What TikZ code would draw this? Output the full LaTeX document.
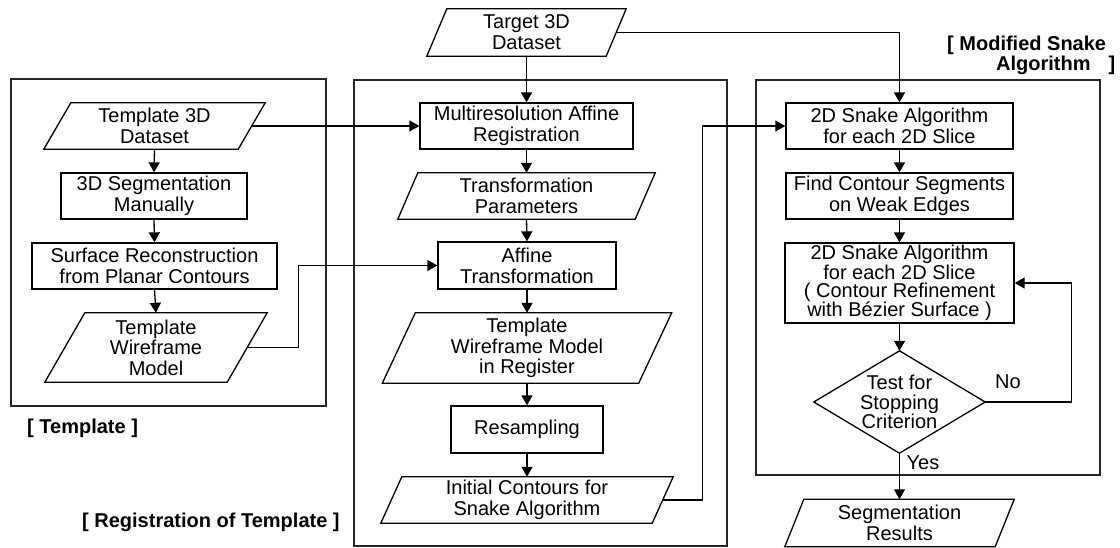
\documentclass[tikz,border=0pt]{standalone}
\usepackage{fontspec}
\setmainfont{Liberation Sans}
\usetikzlibrary{arrows.meta,calc}
\begin{document}
\begin{tikzpicture}[x=1pt,y=-1pt,
  every node/.style={inner sep=0pt, align=center, font=\fontsize{20}{21}\selectfont},
  rbox/.style={draw, line width=1.3pt},
  pbox/.style={},
  shapeline/.style={line width=1.3pt, line join=miter},
  frame/.style={line width=1.2pt, draw=black!85},
  arr/.style={-{Triangle[length=10pt,width=11pt]}, line width=1.3pt},
  lbl/.style={font=\bfseries\fontsize{20}{20}\selectfont, anchor=west}]
\useasboundingbox (0,0) rectangle (1120,547);

% frames
\draw[frame] (11,79) rectangle (326,406);
\draw[frame] (354,80) rectangle (727,546);
\draw[frame] (756,80) rectangle (1100,475);

% left column
\node[pbox, minimum width=221pt, minimum height=46pt] (t3d) at (154.5,126) {Template 3D\\Dataset};
\node[rbox, minimum width=186pt, minimum height=46pt] (seg) at (154,196) {3D Segmentation\\Manually};
\node[rbox, minimum width=245pt, minimum height=46pt] (surf) at (154.5,266) {Surface Reconstruction\\from Planar Contours};
\node[pbox, minimum width=222pt, minimum height=69pt, font=\fontsize{20}{20.5}\selectfont] (twm) at (156,347.5) {Template\\Wireframe\\Model};

% middle column
\node[pbox, minimum width=199pt, minimum height=47pt] (tgt) at (526.5,32.5) {Target 3D\\Dataset};
\node[rbox, minimum width=213pt, minimum height=46pt] (mar) at (526.5,126) {Multiresolution Affine\\Registration};
\node[pbox, minimum width=257pt, minimum height=46pt] (tp) at (526.5,196) {Transformation\\Parameters};
\node[rbox, minimum width=178pt, minimum height=47pt] (at) at (527,265.5) {Affine\\Transformation};
\node[pbox, minimum width=289pt, minimum height=70pt, font=\fontsize{20}{20.5}\selectfont] (twmr) at (527,348) {Template\\Wireframe Model\\in Register};
\node[rbox, minimum width=152pt, minimum height=47pt] (res) at (527,429.5) {Resampling};
\node[pbox, minimum width=292pt, minimum height=46pt] (ic) at (527,500) {Initial Contours for\\Snake Algorithm};

% right column
\node[rbox, minimum width=227pt, minimum height=46pt] (s1) at (899.5,126) {2D Snake Algorithm\\for each 2D Slice};
\node[rbox, minimum width=227pt, minimum height=46pt] (fcs) at (899.5,196) {Find Contour Segments\\on Weak Edges};
\node[rbox, minimum width=229pt, minimum height=80pt, font=\fontsize{20}{18}\selectfont] (s2) at (899.5,283) {2D Snake Algorithm\\for each 2D Slice\\( Contour Refinement\\with Bézier Surface )};
\node[minimum width=171pt, minimum height=102pt, font=\fontsize{20}{19.5}\selectfont] (dia) at (899.5,402) {\raisebox{2pt}{\parbox{100pt}{\centering Test for\\Stopping\\Criterion}}};
\node[pbox, minimum width=229pt, minimum height=47pt] (sr) at (899.5,523) {Segmentation\\Results};

% diamond outline
\draw[shapeline] (dia.north) -- (dia.east) -- (dia.south) -- (dia.west) -- cycle;

% parallelogram outlines
\foreach \n/\s in {t3d/27,twm/40,tgt/20,tp/20,twmr/33,ic/21,sr/19}{
  \draw[shapeline] ($(\n.north west)+(\s,0)$) -- (\n.north east) -- ($(\n.south east)+(-\s,0)$) -- (\n.south west) -- cycle;
  \coordinate (\n-e) at ($(\n.east)+(-\s/2,0)$);
}

% labels
\node[lbl] (lt) at (27,428) {[ Template ]};
\node[lbl] (lr) at (82,522) {[ Registration of Template ]};
\node[lbl] (lm1) at (947,45) {[ Modified Snake};
\node[lbl] (lm2) at (996,65) {Algorithm\hspace{18pt}]};
\node (no) at (1008,382) {No};
\node (yes) at (923,463) {Yes};

% connectors left
\draw[arr] (t3d.south) -- (seg.north);
\draw[arr] (seg.south) -- (surf.north);
\draw[arr] (surf.south) -- (twm.north);
\draw[arr] (t3d-e) -- (mar.west);
\draw[arr] (twm-e) -- ++(51,0) |- (at.west);

% connectors middle
\draw[arr] (tgt.south) -- (mar.north);
\draw[arr] (tgt-e) -| (s1.north);
\draw[arr] (mar.south) -- (tp.north);
\draw[arr] (tp.south) -- (at.north);
\draw[arr] (at.south) -- (twmr.north);
\draw[arr] (twmr.south) -- (res.north);
\draw[arr] (res.south) -- (ic.north);
\draw[arr] (ic-e) -- ++(40,0) |- (s1.west);

% connectors right
\draw[arr] (s1.south) -- (fcs.north);
\draw[arr] (fcs.south) -- (s2.north);
\draw[arr] (s2.south) -- (dia.north);
\draw[arr] (dia.east) -- ++(86,0) |- (s2.east);
\draw[arr] (dia.south) -- (sr.north);
\end{tikzpicture}
\end{document}
